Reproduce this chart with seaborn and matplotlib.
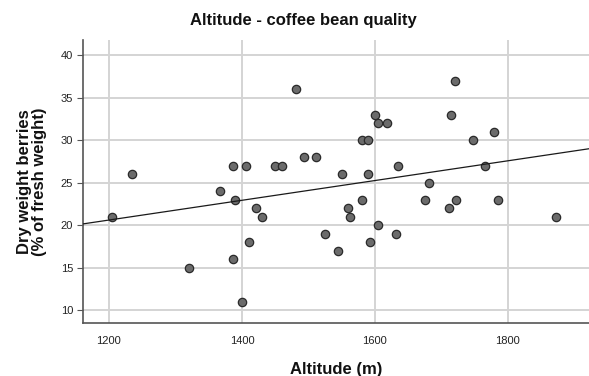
import numpy as np
import pandas as pd
import seaborn as sns
import matplotlib.pyplot as plt

altitude = [1205, 1235, 1320, 1367, 1386, 1386, 1389, 1400, 1406, 1411,
            1421, 1430, 1450, 1460, 1481, 1493, 1511, 1525, 1544, 1550,
            1559, 1562, 1580, 1580, 1589, 1590, 1593, 1600, 1605, 1605,
            1618, 1631, 1634, 1675, 1681, 1711, 1714, 1720, 1722, 1748,
            1766, 1779, 1785, 1872]
dry_weight = [21, 26, 15, 24, 16, 27, 23, 11, 27, 18,
              22, 21, 27, 27, 36, 28, 28, 19, 17, 26,
              22, 21, 30, 23, 26, 30, 18, 33, 32, 20,
              32, 19, 27, 23, 25, 22, 33, 37, 23, 30,
              27, 31, 23, 21]
x_ticks = [1200, 1400, 1600, 1800]
y_ticks = [10, 15, 20, 25, 30, 35, 40]

df = pd.DataFrame({"Altitude (m)": altitude, "Dry weight": dry_weight})

sns.set_theme(style="whitegrid")
plt.rcParams['font.family'] = ['Liberation Sans', 'DejaVu Sans']

fig = plt.figure(figsize=(5.89, 3.76), dpi=100)
ax = fig.add_axes([83 / 589, 53 / 376, 506 / 589, 283 / 376])
ax.set_xlim(1161, 1922)
ax.set_ylim(8.5, 41.8)

sns.regplot(data=df, x="Altitude (m)", y="Dry weight", ci=None, truncate=False,
            scatter_kws=dict(s=36, color="#6b6b6b", edgecolor="#2a2a2a",
                             linewidths=0.9, alpha=1, zorder=3),
            line_kws=dict(color="#1a1a1a", lw=0.9, zorder=4), ax=ax)

ax.set_xlim(1161, 1922)
ax.set_ylim(8.5, 41.8)
ax.set_xticks(x_ticks)
ax.set_yticks(y_ticks)
ax.grid(True, color="#d4d4d4", lw=1.4)
ax.set_axisbelow(True)
for s in ["top", "right"]:
    ax.spines[s].set_visible(False)
for s in ["left", "bottom"]:
    ax.spines[s].set_visible(True)
    ax.spines[s].set_color("#555555")
    ax.spines[s].set_linewidth(1.2)
ax.tick_params(axis="y", length=4, width=0.8, color="#555555", labelsize=8, labelcolor="#222222", pad=3, left=True)
ax.tick_params(axis="x", length=0, labelsize=8, labelcolor="#222222", pad=9)

ax.set_xlabel("Altitude (m)", fontsize=12, fontweight="bold", color="#111111", labelpad=12)
ax.set_ylabel("Dry weight berries\n(% of fresh weight)", fontsize=12, fontweight="bold",
              color="#111111", labelpad=10, linespacing=1.0)
fig.text(303 / 589, 1 - 20 / 376, "Altitude - coffee bean quality", ha="center", va="center",
         fontsize=12, fontweight="bold", color="#111111")

fig.savefig("out.png", dpi=100)
